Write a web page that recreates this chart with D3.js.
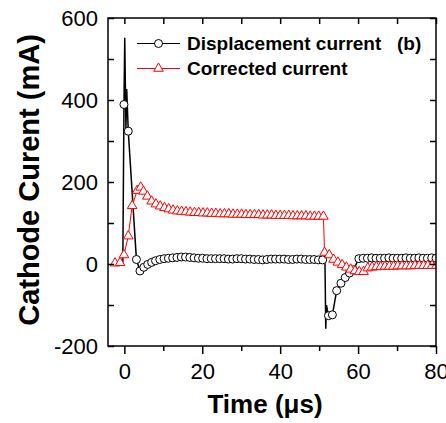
<!DOCTYPE html>
<html>
<head>
<meta charset="utf-8">
<script src="https://cdn.jsdelivr.net/npm/d3@7"></script>
<style>
  body { margin: 0; background: #fff; }
  text { font-family: "Liberation Sans", Arial, sans-serif; }
</style>
</head>
<body>
<svg></svg>
<script>
const size = {w: 446, h: 423};
const plot = {l: 108, r: 436, t: 18, b: 346};

// ---- data (time in µs, current in mA) ----
const xMajor = [0, 20, 40, 60, 80];
const xMinor = [10, 30, 50, 70];
const yMajor = [-200, 0, 200, 400, 600];
const yMinor = [-100, 100, 300, 500];

// displacement current: points carrying a circle
const dispMarked = [
  [-0.1, 389], [1.0, 324], [3.1, 11], [4.0, -17], [5.0, -8], [6.0, -1], [7.0, 4],
  [8.0, 8], [9.1, 11], [10.2, 13], [11.3, 14], [12.4, 15], [13.5, 16], [14.6, 17],
  [15.7, 17], [16.8, 16], [17.9, 15], [19.0, 14], [20.1, 14], [21.2, 13], [22.3, 13],
  [23.4, 13], [24.5, 13], [25.6, 13], [26.7, 12], [27.8, 12], [28.9, 13], [30.0, 13],
  [31.1, 12], [32.2, 12], [33.3, 11], [34.4, 11], [35.5, 10], [36.6, 11], [37.7, 12],
  [38.8, 12], [39.9, 12], [41.0, 12], [42.1, 11], [43.2, 11], [44.3, 12], [45.4, 12],
  [46.5, 11], [47.6, 11], [48.7, 11], [49.8, 10], [50.9, 10],
  [52.4, -126], [53.4, -124], [54.5, -65], [55.6, -47], [56.7, -33], [57.8, -22],
  [58.8, -14], [60.2, 13], [61.3, 14], [62.4, 14], [63.5, 15], [64.6, 14], [65.7, 14],
  [66.8, 14], [67.9, 15], [69.0, 14], [70.1, 14], [71.2, 14], [72.3, 15], [73.4, 14],
  [74.5, 14], [75.6, 15], [76.7, 14], [77.8, 14], [78.9, 15], [80.0, 14]
];
// displacement current: spike points drawn by the line only
const dispLineOnly = [
  [-0.4, 0], [0.1, 552], [0.4, 330], [0.6, 427],
  [51.5, 4], [51.7, -158], [51.9, -100], [52.1, -112]
];

// corrected current: every point carries a triangle
const corrMarked = [
  [-2.4, 2], [-1.1, 3], [-0.1, 22], [1.0, 68], [2.0, 142], [3.3, 179], [4.2, 187],
  [4.9, 177], [5.9, 165], [7.0, 153], [8.1, 146], [9.2, 141], [10.3, 137], [11.4, 134],
  [12.5, 131], [13.6, 129], [14.7, 128], [15.8, 127], [16.9, 126], [18.0, 125],
  [19.1, 125], [20.2, 124], [21.3, 124], [22.4, 123], [23.5, 123], [24.6, 122],
  [25.7, 122], [26.8, 122], [27.9, 121], [29.0, 121], [30.1, 121], [31.2, 120],
  [32.3, 120], [33.4, 120], [34.5, 120], [35.6, 119], [36.7, 119], [37.8, 119],
  [38.9, 118], [40.0, 118], [41.1, 118], [42.2, 118], [43.3, 117], [44.4, 117],
  [45.5, 117], [46.6, 117], [47.7, 116], [48.8, 116], [49.9, 116], [51.1, 116],
  [51.4, 28], [52.6, 22], [53.7, 11], [54.8, 4], [55.9, -2], [57.0, -8], [58.1, -13],
  [59.2, -17], [60.3, -19], [61.4, -19], [62.5, -10], [63.6, -8], [64.7, -7],
  [65.8, -7], [66.9, -6], [68.0, -6], [69.1, -6], [70.2, -5], [71.3, -5], [72.4, -5],
  [73.5, -5], [74.6, -4], [75.7, -4], [76.8, -4], [77.9, -4], [79.0, -4], [80.1, -4]
];

const seriesNames = ['Displacement current', 'Corrected current'];
const panelLabel = '(b)';
const xTitle = 'Time (\u03bcs)';
const yTitle = 'Cathode Curent (mA)';

// ---- drawing ----
const svg = d3.select('svg').attr('width', size.w).attr('height', size.h);

const x = d3.scaleLinear().domain([-4.2, 80]).range([plot.l, plot.r]);
const y = d3.scaleLinear().domain([-200, 600]).range([plot.b, plot.t]);

svg.append('defs').append('clipPath').attr('id', 'clip')
  .append('rect')
  .attr('x', plot.l).attr('y', plot.t)
  .attr('width', plot.r - plot.l).attr('height', plot.b - plot.t);

const line = d3.line().x(d => x(d[0])).y(d => y(d[1]));
const dataG = svg.append('g').attr('clip-path', 'url(#clip)');

// black series
const dispAll = dispMarked.concat(dispLineOnly).sort((a, b) => a[0] - b[0]);
dataG.append('path')
  .attr('d', line(dispAll))
  .attr('fill', 'none').attr('stroke', '#000').attr('stroke-width', 1.5);
dataG.selectAll('circle.disp')
  .data(dispMarked)
  .join('circle').classed('disp', true)
  .attr('cx', d => x(d[0])).attr('cy', d => y(d[1]))
  .attr('r', 4)
  .attr('fill', '#fff').attr('stroke', '#000').attr('stroke-width', 1);

// red series
const tri = d3.symbol(d3.symbolTriangle, 40);
dataG.append('path')
  .attr('d', line(corrMarked))
  .attr('fill', 'none').attr('stroke', '#ff0000').attr('stroke-width', 1);
dataG.selectAll('path.corr')
  .data(corrMarked)
  .join('path').classed('corr', true)
  .attr('transform', d => `translate(${x(d[0])},${y(d[1])})`)
  .attr('d', tri)
  .attr('fill', '#fff').attr('stroke', '#ff0000').attr('stroke-width', 1);

// axes
function strip(g) { g.select('.domain').remove(); }
const plain = d => String(d);
const tickFont = g => g.selectAll('text')
  .attr('font-size', 22).attr('fill', '#000')
  .attr('font-family', '"Liberation Sans", Arial, sans-serif');

svg.append('g').attr('transform', `translate(0,${plot.b})`)
  .call(d3.axisBottom(x).tickValues(xMajor).tickSize(8).tickPadding(9).tickFormat(plain))
  .call(strip).call(tickFont);
svg.append('g').attr('transform', `translate(0,${plot.b})`)
  .call(d3.axisBottom(x).tickValues(xMinor).tickSize(5).tickFormat(''))
  .call(strip);
svg.append('g').attr('transform', `translate(0,${plot.t})`)
  .call(d3.axisTop(x).tickValues(xMajor.concat(xMinor)).tickSize(-6).tickFormat(''))
  .call(strip);
svg.append('g').attr('transform', `translate(${plot.l},0)`)
  .call(d3.axisLeft(y).tickValues(yMajor).tickSize(-6).tickPadding(10).tickFormat(plain))
  .call(strip).call(tickFont);
svg.append('g').attr('transform', `translate(${plot.l},0)`)
  .call(d3.axisLeft(y).tickValues(yMinor).tickSize(-6).tickFormat(''))
  .call(strip);
svg.append('g').attr('transform', `translate(${plot.r},0)`)
  .call(d3.axisRight(y).tickValues(yMajor.concat(yMinor)).tickSize(-6).tickFormat(''))
  .call(strip);
svg.selectAll('.tick line').attr('stroke', '#000').attr('stroke-width', 1.5);

// frame
svg.append('rect')
  .attr('x', plot.l).attr('y', plot.t)
  .attr('width', plot.r - plot.l).attr('height', plot.b - plot.t)
  .attr('fill', 'none').attr('stroke', '#000').attr('stroke-width', 1.5);

// axis titles
svg.append('text')
  .attr('x', 265).attr('y', 413)
  .attr('text-anchor', 'middle')
  .attr('font-size', 26).attr('font-weight', 'bold')
  .text(xTitle);
svg.append('text')
  .attr('transform', 'translate(39,180) rotate(-90)')
  .attr('text-anchor', 'middle')
  .attr('font-size', 29).attr('font-weight', 'bold')
  .text(yTitle);

// legend
const legG = svg.append('g');
legG.append('line').attr('x1', 137).attr('x2', 180).attr('y1', 43.5).attr('y2', 43.5)
  .attr('stroke', '#000').attr('stroke-width', 1);
legG.append('circle').attr('cx', 158.5).attr('cy', 43.5).attr('r', 4)
  .attr('fill', '#fff').attr('stroke', '#000');
legG.append('line').attr('x1', 137).attr('x2', 180).attr('y1', 68.5).attr('y2', 68.5)
  .attr('stroke', '#ff0000').attr('stroke-width', 1);
legG.append('path').attr('transform', 'translate(158.5,68.5)').attr('d', tri)
  .attr('fill', '#fff').attr('stroke', '#ff0000');
legG.selectAll('text.leg')
  .data(seriesNames)
  .join('text').classed('leg', true)
  .attr('x', 187).attr('y', (d, i) => 50 + i * 24.5)
  .attr('font-size', 19).attr('font-weight', 'bold')
  .text(d => d);
legG.append('text')
  .attr('x', 397).attr('y', 50)
  .attr('font-size', 19).attr('font-weight', 'bold')
  .text(panelLabel);
</script>
</body>
</html>
